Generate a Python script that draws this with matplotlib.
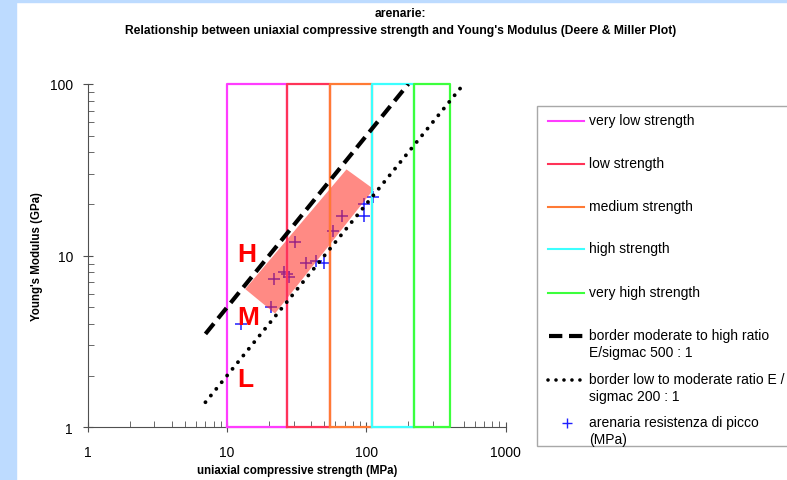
import matplotlib.pyplot as plt
from matplotlib.patches import Rectangle, Polygon
from matplotlib.lines import Line2D

plt.rcParams['font.family'] = ['Liberation Sans', 'DejaVu Sans']

# strength class boundaries (MPa)
class_names = ['very low strength', 'low strength', 'medium strength',
               'high strength', 'very high strength']
class_bounds = [10, 27, 55, 110, 220, 400]
class_colors = ['#ff3cff', '#ff3358', '#ff7a35', '#3cffff', '#3cff3c']

# modulus ratio borders E/sigmac
ratio_high = 500
ratio_low = 200
high_sigma = [7, 200]
low_sigma = [7, 500]

# arenaria peak strength samples
ucs = [12.7, 20.7, 21.9, 25.7, 27.0, 28.0, 30.8, 36.7, 43.5, 49.8,
       57.4, 66.6, 96.3, 96.3, 112]
young = [4.0, 5.04, 7.31, 8.06, 7.8, 7.48, 12.05, 9.02, 9.27, 9.02,
         13.96, 17.1, 17.1, 19.96, 22.0]

# shaded zone corners (sigma, E)
zone_sigma = [13.5, 72, 113, 22.1]
zone_e = [6.39, 31.8, 24.4, 4.6]

letters = ['H', 'M', 'L']
letter_pos = [(13.8, 10.2), (14.2, 4.37), (13.5, 1.91)]

W, H = 787, 481
fig = plt.figure(figsize=(W / 100, H / 100), dpi=100)

# slide background strips
fig.patches.append(Rectangle((0, 0), 16 / W, 1, transform=fig.transFigure,
                             color='#bddbff', zorder=-5))
fig.patches.append(Rectangle((0, 1 - 3 / H), 1, 3 / H, transform=fig.transFigure,
                             color='#bddbff', zorder=-5))

ax = fig.add_axes([87.7 / W, 1 - 428.3 / H, 418 / W, 343.3 / H])
ax.set_xscale('log')
ax.set_yscale('log')
ax.set_xlim(1, 1000)
ax.set_ylim(1, 100)

ax.scatter(ucs, young, marker='+', s=80, color='#1f1fff', linewidths=1.1, zorder=2)
ax.add_patch(Polygon(list(zip(zone_sigma, zone_e)), closed=True,
                     facecolor='#ff2a20', alpha=0.55, edgecolor='none', zorder=3))

for i, c in enumerate(class_colors):
    lo, hi = class_bounds[i], class_bounds[i + 1]
    ax.plot([lo, lo, hi, hi, lo], [1, 100, 100, 1, 1], color=c, lw=1.6,
            zorder=4 + i * 0.1, clip_on=False)

ax.plot(high_sigma, [s * ratio_high / 1000 for s in high_sigma], color='black',
        lw=3, dashes=(3.2, 1.6), zorder=5)
ax.plot(low_sigma, [s * ratio_low / 1000 for s in low_sigma], color='black',
        lw=2.8, linestyle=(0, (0.01, 2.2)), dash_capstyle='round', zorder=5)

for t, (x, y) in zip(letters, letter_pos):
    ax.text(x, y, t, color='#ff0000', fontsize=19, fontweight='bold',
            ha='center', va='center', zorder=6)

for side in ['top', 'right']:
    ax.spines[side].set_visible(False)
for side in ['left', 'bottom']:
    ax.spines[side].set_color('#505050')
ax.tick_params(which='major', direction='inout', length=7, color='#505050',
               labelsize=10)
ax.tick_params(which='minor', direction='in', length=4, color='#505050')
ax.set_xticks([1, 10, 100, 1000])
ax.set_xticklabels(['1', '10', '100', '1000'])
ax.set_yticks([1, 10, 100])
ax.set_yticklabels(['1', '10', '100'])
ax.tick_params(axis='x', pad=9)
ax.tick_params(axis='y', pad=7)

ax.set_xlabel('uniaxial compressive strength (MPa)', fontsize=8.3,
              fontweight='bold', labelpad=4)
ax.set_ylabel("Young's Modulus (GPa)", fontsize=8.3, fontweight='bold', labelpad=5)

fig.text(400 / W, 1 - 14 / H, 'arenarie:', ha='center', va='center',
         fontsize=8.7, fontweight='bold')
fig.text(401 / W, 1 - 31 / H,
         "Relationship between uniaxial compressive strength and Young's Modulus (Deere & Miller Plot)",
         ha='center', va='center', fontsize=8.7, fontweight='bold')

# legend drawn in pixel coordinates
lg = fig.add_axes([0, 0, 1, 1], facecolor='none')
lg.set_xlim(0, W)
lg.set_ylim(H, 0)
lg.axis('off')
lg.add_patch(Rectangle((537, 107), 300, 340, facecolor='white',
                       edgecolor='#a8a8a8', lw=1, clip_on=True))

leg_y = [122, 165, 208, 250, 294, 337, 381, 424]
leg_labels = class_names + ['border moderate to high ratio\nE/sigmac 500 : 1',
                            'border low to moderate ratio E /\nsigmac 200 : 1',
                            'arenaria resistenza di picco\n(MPa)']
for y, c in zip(leg_y[:5], class_colors):
    lg.add_line(Line2D([548, 584], [y, y], color=c, lw=1.5))
lg.add_line(Line2D([549, 585], [leg_y[5], leg_y[5]], color='black', lw=3,
                   dashes=(3.2, 1.6)))
lg.add_line(Line2D([548, 586], [leg_y[6], leg_y[6]], color='black', lw=2.6,
                   linestyle=(0, (0.01, 2.2)), dash_capstyle='round'))
lg.plot([567], [leg_y[7]], marker='+', ms=7, mew=1, color='#1f1fff')
for y, t in zip(leg_y, leg_labels):
    lg.text(589, y - 7.5, t, ha='left', va='top', fontsize=10, linespacing=1.25)

fig.savefig('out.png', dpi=100)
